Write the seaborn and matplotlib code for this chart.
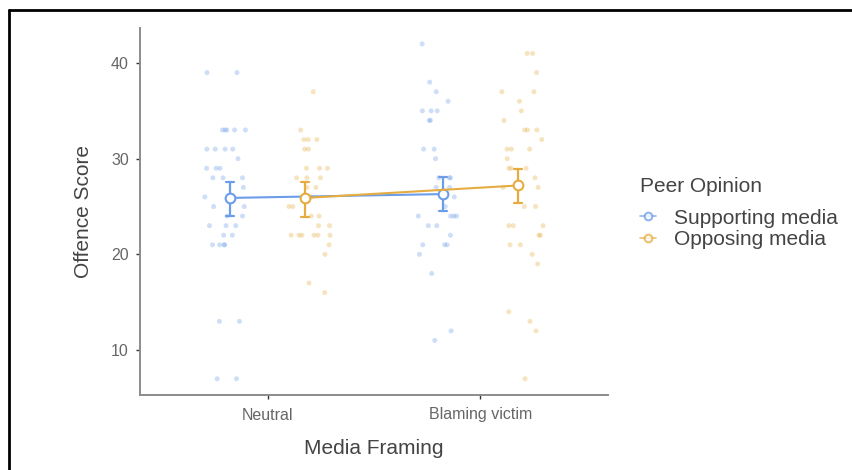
import numpy as np
import pandas as pd
import matplotlib
matplotlib.use("Agg")
import matplotlib.pyplot as plt
import seaborn as sns
from matplotlib.lines import Line2D

# ---------------- data ----------------
framing_levels = ["Neutral", "Blaming victim"]
opinion_levels = ["Supporting media", "Opposing media"]

neutral_supporting = [39, 39, 33, 33, 33, 33, 33, 31, 31, 31, 31, 30, 29, 29, 29,
                      28, 28, 28, 27, 26, 26, 25, 25, 24, 24, 23, 23, 23, 22, 22,
                      21, 21, 21, 21, 13, 13, 7, 7]
neutral_opposing = [37, 33, 32, 32, 32, 31, 31, 29, 29, 29, 28, 28, 28, 27, 27,
                    26, 26, 25, 25, 24, 24, 23, 23, 22, 22, 22, 22, 22, 22, 21,
                    20, 17, 16]
blaming_supporting = [42, 38, 37, 36, 35, 35, 35, 34, 34, 31, 31, 30, 28, 28, 28,
                      27, 27, 26, 25, 24, 24, 24, 24, 23, 23, 22, 21, 21, 21, 20,
                      18, 12, 11]
blaming_opposing = [41, 41, 39, 37, 37, 36, 35, 34, 33, 33, 33, 32, 31, 31, 31,
                    30, 29, 29, 29, 28, 27, 27, 25, 25, 23, 23, 23, 22, 22, 21,
                    21, 20, 19, 14, 13, 12, 7]

# group means and 95% CI bounds, order: (Neutral, Sup), (Neutral, Opp), (Blaming, Sup), (Blaming, Opp)
mean_scores = [25.9, 25.9, 26.3, 27.2]
ci_lower = [24.0, 23.9, 24.5, 25.4]
ci_upper = [27.6, 27.6, 28.1, 28.9]

# ---------------- frames ----------------
groups = [("Neutral", "Supporting media", neutral_supporting),
          ("Neutral", "Opposing media", neutral_opposing),
          ("Blaming victim", "Supporting media", blaming_supporting),
          ("Blaming victim", "Opposing media", blaming_opposing)]
raw_rows = []
for fr, op, vals in groups:
    for v in vals:
        raw_rows.append({"Media Framing": fr, "Peer Opinion": op, "score": v})
raw = pd.DataFrame(raw_rows)

summ_rows = []
for (fr, op, _), m, lo, hi in zip(groups, mean_scores, ci_lower, ci_upper):
    for v in (lo, m, hi):
        summ_rows.append({"Media Framing": fr, "Peer Opinion": op, "value": v})
summ = pd.DataFrame(summ_rows)

colors = ["#6B9DE8", "#E6AC40"]

# ---------------- plot ----------------
sns.set_theme(style="ticks")
plt.rcParams["font.family"] = ["Liberation Sans", "DejaVu Sans"]

fig = plt.figure(figsize=(8.52, 4.70), dpi=100)
ax = fig.add_axes([140 / 852, 1 - 395 / 470, (608 - 140) / 852, (395 - 28) / 470])

np.random.seed(7)
sns.stripplot(data=raw, x="Media Framing", y="score", hue="Peer Opinion",
              order=framing_levels, hue_order=opinion_levels, palette=colors,
              dodge=True, jitter=0.2, size=3.6, alpha=0.33, linewidth=0,
              legend=False, ax=ax, zorder=1)

sns.pointplot(data=summ, x="Media Framing", y="value", hue="Peer Opinion",
              order=framing_levels, hue_order=opinion_levels, palette=colors,
              estimator="median", errorbar=("pi", 100), dodge=0.352,
              markers="o", markersize=7, markerfacecolor="white",
              markeredgewidth=1.5, linewidth=1.5, capsize=0.04,
              err_kws={"linewidth": 1.6, "zorder": 2}, zorder=3, ax=ax)

ax.set_xlim(-0.6, 1.6)
ax.set_ylim(5.3, 43.66)
ax.set_yticks([10, 20, 30, 40])
sns.despine(ax=ax)
for s in ("left", "bottom"):
    ax.spines[s].set_color("#8c8c8c")
    ax.spines[s].set_linewidth(1.4)
ax.tick_params(axis="both", length=3, width=1, color="#333333",
               labelcolor="#666666", labelsize=11.5)
ax.tick_params(axis="y", pad=5)
ax.tick_params(axis="x", pad=6)
ax.set_xlabel("Media Framing", fontsize=15, color="#444444", labelpad=12)
ax.set_ylabel("Offence Score", fontsize=15, color="#444444", labelpad=13)

sns.move_legend(ax, "upper left", bbox_to_anchor=(1.068, 0.594), frameon=False,
                title="Peer Opinion", fontsize=15, title_fontsize=15,
                borderaxespad=0, borderpad=0, handlelength=0.8,
                handletextpad=0.85, labelspacing=0.13)
leg = ax.get_legend()
leg._legend_box.align = "left"
leg._legend_box.sep = 9
for t in leg.get_texts():
    t.set_color("#444444")
leg.get_title().set_color("#444444")
for h in leg.legend_handles:
    h.set_markersize(5.5)
    h.set_linewidth(1.2)
    h.set_alpha(0.75)

# screenshot frame (top and left edges)
fig.add_artist(Line2D([9 / 852, 1], [1 - 10 / 470, 1 - 10 / 470],
                      transform=fig.transFigure, color="black", lw=2))
fig.add_artist(Line2D([9 / 852, 9 / 852], [0, 1 - 10 / 470],
                      transform=fig.transFigure, color="black", lw=2))

fig.savefig("out.png", dpi=100, facecolor="white")
